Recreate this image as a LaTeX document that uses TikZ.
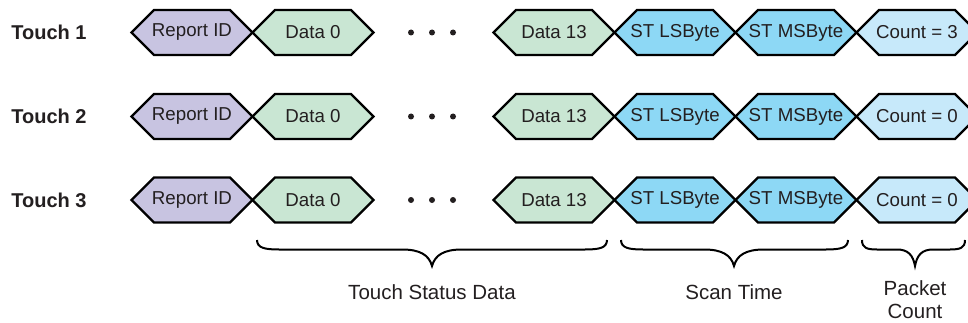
\documentclass[tikz,border=0pt]{standalone}
\usepackage{fontspec}
\setmainfont{Liberation Sans}
\definecolor{rid}{HTML}{C8C4E1}
\definecolor{dat}{HTML}{C9E6D3}
\definecolor{stc}{HTML}{8DD8F5}
\definecolor{cnt}{HTML}{C7E9FA}
\definecolor{ink}{HTML}{231F20}
\tikzset{
  hexbox/.style={minimum width=121pt, minimum height=45pt, inner sep=0pt,
    font=\fontsize{18.7}{21}\selectfont, text=ink},
  hexline/.style={draw=black, line width=2.2pt, line join=miter},
  rowlabel/.style={font=\fontsize{20}{23}\selectfont\bfseries, text=ink},
  groupl/.style={font=\fontsize{20.5}{23}\selectfont, text=ink, align=center},
  bracel/.style={draw=black, line width=2pt},
  dotn/.style={circle, fill=ink, inner sep=0pt, minimum size=6pt}
}
\newcommand\hexat[5]{%
  \path[hexline, fill=#4] (#2-60.5,#3) -- (#2-38,#3-22.5) -- (#2+38,#3-22.5)
    -- (#2+60.5,#3) -- (#2+38,#3+22.5) -- (#2-38,#3+22.5) -- cycle;
  \node[hexbox] (#1) at (#2,#3) {#5};}
\newcommand\bracedraw[3]{% x0, xm, x1
  \path[bracel] (#1,240) .. controls (#1,248) and (#1+8,249.5) .. (#1+22,249.5)
    -- (#2-30,249.5) .. controls (#2-12,249.5) and (#2-3,255) .. (#2,266)
    .. controls (#2+3,255) and (#2+12,249.5) .. (#2+30,249.5)
    -- (#3-22,249.5) .. controls (#3-8,249.5) and (#3,248) .. (#3,240);}
\begin{document}
\begin{tikzpicture}[x=1pt,y=-1pt]
\useasboundingbox (0,0) rectangle (968,323);
\clip (0,0) rectangle (968,323);
\foreach \r/\y/\c in {1/32.5/3, 2/116.5/0, 3/200/0}{
  \node[rowlabel] (touch\r) at (49,\y) {Touch \r};
  \hexat{rid\r}{192}{\y}{rid}{Report ID}
  \hexat{dz\r}{313}{\y}{dat}{Data 0}
  \node[dotn] (dota\r) at (411,\y) {};
  \node[dotn] (dotb\r) at (432,\y) {};
  \node[dotn] (dotc\r) at (453,\y) {};
  \hexat{dt\r}{554}{\y}{dat}{Data 13}
  \hexat{stl\r}{675}{\y}{stc}{ST LSByte}
  \hexat{stm\r}{796}{\y}{stc}{ST MSByte}
  \hexat{cnt\r}{917}{\y}{cnt}{Count = \c}
}
\bracedraw{257}{432}{607}
\bracedraw{621}{734}{848}
\path[bracel] (862,240) .. controls (862,248) and (867,249.5) .. (877,249.5)
    -- (897,249.5) .. controls (908,249.5) and (913,255) .. (915,266)
    .. controls (917,255) and (922,249.5) .. (933,249.5)
    -- (950,249.5) .. controls (960,249.5) and (965,248) .. (965,240);
\node[groupl] (tsd) at (432,292) {Touch Status Data};
\node[groupl] (sct) at (734,292) {Scan Time};
\node[groupl] (pkc) at (915,300) {Packet\\Count};
\end{tikzpicture}
\end{document}
